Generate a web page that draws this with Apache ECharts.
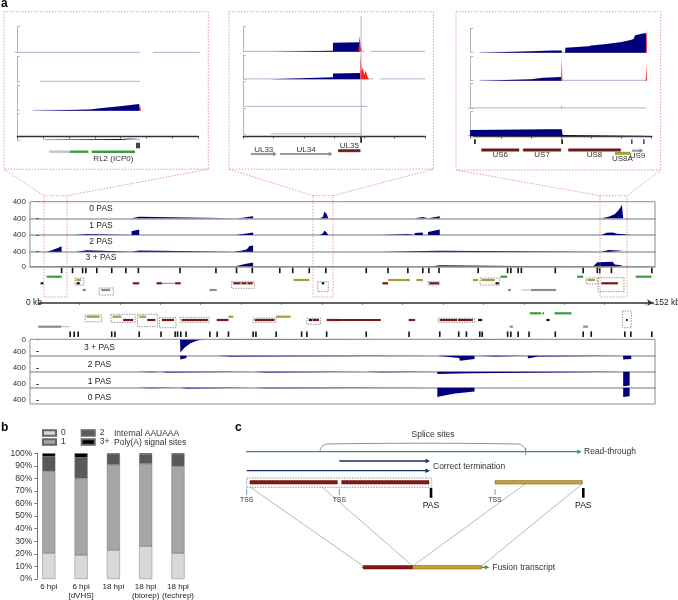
<!DOCTYPE html>
<html><head><meta charset="utf-8">
<script src="https://cdn.jsdelivr.net/npm/echarts/dist/echarts.min.js"></script>
<style>html,body{margin:0;padding:0;background:#fff}#c{width:678px;height:600px}</style>
</head><body><div id="c"></div>
<script>
// ================= DATA =================
// ---- panel b ----
const bCategories = ['6 hpi', '6 hpi\n[dVHS]', '18 hpi', '18 hpi\n(biorep)', '18 hpi\n(techrep)'];
const bPas0 = [20.5, 19.0, 22.9, 26.0, 20.5];
const bPas1 = [65.2, 61.0, 68.0, 65.7, 69.1];
const bPas2 = [11.7, 16.6, 8.6, 7.5, 9.4];
const bPas3 = [2.6, 3.4, 0.5, 0.8, 1.0];
const bSeriesNames = ['0', '1', '2', '3+'];

// ---- panel a, genome-wide coverage (x = kb, y = reads), peaks ----
const up0 = [
  [[22.9,0],[22.9,30],[24.8,40],[24.8,0]],
  [[48.9,0],[50.5,15],[52,35],[53,50],[53,0]],
  [[69.6,0],[70.3,40],[70.6,160],[71.1,120],[71.6,0]],
  [[93,0],[93,25],[95,30],[95,0]],
  [[96.3,0],[96.3,35],[99.2,50],[99.2,0]],
  [[139.2,0],[139.2,20],[141,40],[142.5,100],[143.5,200],[144.3,320],[144.6,320],[144.6,0]]
];
const up1 = [
  [[8.9,0],[8.9,15],[11.8,20],[11.8,0]],
  [[22.9,0],[22.9,90],[24.8,130],[24.8,0]],
  [[48.9,0],[51,30],[53,60],[53,0]],
  [[69.6,0],[70.3,40],[70.6,100],[71.1,70],[71.6,0]],
  [[84.7,0],[84.7,12],[91.3,15],[91.3,0]],
  [[93,0],[93,50],[95,60],[95,0]],
  [[96.3,0],[96.3,70],[99.2,130],[99.2,0]],
  [[139.2,0],[139.2,20],[140.5,55],[142,60],[143,30],[144.6,20],[144.6,0]],
  [[146.5,0],[146.5,10],[152,15],[152,0]]
];
const up2 = [
  [[1.9,0],[3,30],[4.5,80],[5.6,130],[5.6,0]],
  [[9.2,0],[9.2,30],[11.8,35],[11.8,0]],
  [[22.9,0],[22.9,25],[24.8,30],[24.8,0]],
  [[48.1,0],[50,25],[51.5,60],[52,130],[53,150],[53,0]],
  [[84.7,0],[84.7,20],[99.2,25],[99.2,0]],
  [[139.2,0],[139.2,30],[141,40],[144.6,20],[144.6,0]]
];
const up3 = [
  [[3.5,0],[3.5,15],[5.6,20],[5.6,0]],
  [[48.1,0],[48.1,40],[51,70],[53,110],[53,0]],
  [[96.3,0],[96.3,25],[99.2,40],[99.2,0]],
  [[137.1,0],[137.5,30],[138.2,120],[142,135],[142.5,60],[144.6,30],[144.6,0]]
];
const lo3 = [
  [[34.9,0],[35,430],[36,270],[37.5,130],[39,50],[41.1,0]],
  [[44,0],[44,15],[47.3,20],[47.3,0]],
  [[99.2,0],[99.2,25],[107.8,20],[107.8,0]],
  [[121,0],[121,15],[123.5,10],[123.5,0]],
  [[144.6,0],[144.6,30],[146.6,25],[146.6,0]]
];
const lo2 = [
  [[34.9,0],[35,125],[36.5,80],[36.5,0]],
  [[44,0],[44,40],[47.3,30],[47.3,0]],
  [[98.6,0],[98.6,60],[104,80],[104.2,170],[107.8,110],[107.8,0]],
  [[108.7,0],[108.7,60],[112.8,25],[112.8,0]],
  [[121,0],[121,90],[123.5,30],[123.5,0]],
  [[144.6,0],[144.6,130],[146.6,110],[146.6,0]]
];
const lo1 = [
  [[24.6,0],[24.6,30],[27.5,20],[27.5,0]],
  [[30,0],[30,40],[31.6,30],[31.6,0]],
  [[53,0],[53,60],[56.4,30],[56.4,0]],
  [[80.6,0],[80.6,30],[84.7,20],[84.7,0]],
  [[98.6,0],[98.6,80],[104,60],[107.8,50],[107.8,0]],
  [[144.6,0],[144.6,480],[146.2,460],[146.2,0]]
];
const lo0 = [
  [[24.6,0],[24.6,25],[27.5,15],[27.5,0]],
  [[34.9,0],[34.9,50],[36.5,30],[36.5,0]],
  [[53,0],[53,30],[56.4,20],[56.4,0]],
  [[98.6,0],[98.6,300],[100,260],[103,190],[107.8,120],[107.8,0]],
  [[144.6,0],[144.6,300],[146.2,280],[146.2,0]]
];
const upperTrackNames = ['0 PAS', '1 PAS', '2 PAS', '3 + PAS'];
const lowerTrackNames = ['3 + PAS', '2 PAS', '1 PAS', '0 PAS'];

// PAS positions (kb)
const upperPasKb = [5.6,8.3,10.8,11.6,14.3,18.0,21.5,24.6,34.9,43.8,48.9,52.8,59.6,62.8,66.9,71.0,81.0,86.4,91.3,95.0,96.5,99.0,108.7,116.0,116.8,118.6,119.4,127.8,134.7,138.2,138.8,141.7,151.7];
const lowerPasKb = [7.7,8.7,9.7,18.0,18.8,24.8,30.2,33.7,34.3,35.1,36.4,42.3,44.1,46.9,53.0,53.7,58.7,65.0,66.3,71.2,81.0,91.6,99.2,103.9,105.8,109.1,109.7,116.0,116.8,118.6,121.3,127.8,134.7,136.7,145.0,146.5,151.7];

// genes [startKb, endKb, kind]
const upperGenes = [
  [1.9,5.6,'green'],[0.4,1.1,'black'],[9.2,10.4,'olive'],[9.3,10.1,'black'],[10.8,11.6,'gray'],[15.4,17.6,'gray'],
  [23.2,24.8,'red'],[29.1,30.4,'red'],[30.4,33.7,'intron'],[33.7,35.1,'red'],[42.2,44,'gray'],
  [48.1,49.9,'red'],[50.1,51.4,'red'],[51.6,52.9,'red'],[63,66.9,'olive'],[70,70.6,'black'],
  [85,86.4,'red'],[86.4,91.8,'olive'],[93.4,95,'olive'],[96.6,99,'red'],[107.4,108.7,'olive'],
  [109.5,112.8,'olive'],[113,113.8,'black'],[114.2,115.9,'green'],[116.1,116.8,'gray'],
  [119.4,121.8,'intronGray'],[121.8,128,'gray'],[133.2,134.7,'green'],[135.8,137.6,'olive'],
  [139.2,143.3,'red'],[147.7,151.6,'green']
];
const lowerGenes = [
  [-0.2,5.5,'gray'],[5.5,7.7,'intronGray'],[11.8,15,'olive'],[18.2,20.4,'olive'],[20.8,23.3,'red'],
  [24.8,26.5,'olive'],[26.8,28.8,'red'],[30.4,33.4,'red'],[35.3,41.8,'red'],[44,46.9,'red'],
  [46.9,48.1,'olive'],[53.4,58.3,'red'],[58.7,62.3,'olive'],[66.8,67.6,'black'],[67.7,69.3,'red'],
  [71.2,74.5,'red'],[74.5,84.6,'red'],[91.5,93.1,'red'],[99.2,103.5,'red'],[103.7,107.4,'red'],
  [108.7,109.7,'black'],[116.5,117.3,'gray'],[121.5,124.3,'green'],[124.6,125,'green'],
  [125.6,126.4,'black'],[127.6,131.8,'green'],[134.7,135.9,'gray'],[145.3,145.7,'black']
];
// dashed gene groups [startKb, endKb, rowTop, rowBottom]
const upperBoxes = [[8.9,11.1,4,11],[14.9,18.4,14,21],[47.7,53.3,7.7,14.3],[69,71.6,7.7,17.7],[96.3,99.2,7.7,11],[109.2,114,4,11],[135.5,138.2,4,10],[138.4,144.8,3.7,17.7]];
const lowerBoxes = [[11.4,15.5,5,11.7],[17.8,23.8,4.3,12.3],[24.4,29.3,4.3,16.7],[29.8,33.9,7.7,17.7],[34.9,42.1,7.3,12.3],[53,58.7,8,12.3],[66.3,69.7,8.3,14.3],[98.8,107.8,8.3,12.3],[144.4,146.6,1,17.7]];

// ---- panel a zoom boxes (x = position along box axis, y = relative coverage) ----
const box1Cov = [[], [], [[0.68,0],[0.68,3],[2.81,5],[2.85,8],[3.2,10],[3.97,17],[4.55,24],[4.71,26],[4.74,26],[4.74,0]], [[1.0,0],[1.0,1.5],[3.97,4],[4.74,7],[4.74,0]]];
const box1Red = [[], [], [[4.72,0],[4.74,28],[4.78,0]], []];
const box1Faint = [[[-0.1,4.75],[5.25,7.05]], [[0.88,4.74]], [[0.6,4.74]], [[1.0,4.74]]];
const box2Cov = [
  [[0.89,0],[0.89,3],[2.96,4],[2.96,36],[3.86,38],[3.86,0]],
  [[0.89,0],[0.89,3],[2.96,8],[2.96,24],[3.86,26],[3.86,0]],
  [[2.96,0],[2.96,4],[3.89,4],[3.89,0]],
  []
];
const box2Red = [
  [[3.8,0],[3.84,65],[3.87,20],[3.92,6],[3.97,0]],
  [[3.86,0],[3.87,100],[3.91,30],[3.95,50],[3.99,18],[4.04,35],[4.1,10],[4.15,0]],
  [], []
];
const box2Faint = [[[0.06,4.0],[4.2,6.0]], [[0.06,4.3],[4.5,6.0]], [[0.1,4.1]], [[0.9,3.9]]];
const box3Cov = [
  [[0.29,0],[0.29,3],[2.0,6],[2.7,9],[3.02,9],[3.02,0],[3.13,0],[3.14,20],[3.9,26],[4.0,30],[4.5,36],[5.0,44],[5.3,52],[5.4,56],[5.45,72],[5.75,80],[5.82,80],[5.82,0]],
  [[0.29,0],[0.29,2],[2.0,6],[2.4,12],[3.0,15],[3.0,0]],
  [[-0.09,0],[-0.09,4],[3.02,6],[3.02,0]],
  [[-0.09,0],[-0.09,25],[2.5,28],[2.55,26],[3.02,28],[3.05,4],[5.8,4],[5.8,0]]
];
const box3Red = [
  [[5.8,0],[5.82,100],[5.84,0]],
  [[3.0,0],[3.02,100],[3.04,0],[5.8,0],[5.82,70],[5.84,0]],
  [[3.01,0],[3.02,15],[3.03,0]],
  []
];
const box3Faint = [[[0.29,5.82]], [[0.29,5.82]], [[-0.09,5.82]], [[-0.09,5.82]]];
// genes in boxes [start, end, row, kind, name]
const box1Genes = [[1.23,2.04,15.7,'greenLight',''],[2.04,2.75,15.7,'green',''],[2.88,4.55,15.7,'green','RL2 (ICP0)']];
const box2Genes = [[0.25,1.1,18,'grayArrow','UL33'],[1.21,2.94,18,'grayArrow','UL34'],[3.14,3.86,14.7,'red','UL35']];
const box3Genes = [[0.36,1.6,14,'red','US6'],[1.74,2.99,14,'red','US7'],[3.24,4.97,14,'red','US8'],[4.78,5.28,17.3,'olive','US8A'],[5.34,5.72,14.7,'grayArrow','US9']];
// PAS marks in boxes [pos, rowTop, rowBottom, kind]
const box1Marks = [[4.63,6.7,12.3,'black'],[4.71,6.7,12.3,'black']];
const box2Marks = [[3.89,0.7,6.7,'black']];
const box3Marks = [[0.14,3.3,8,'black'],[3.03,3.3,8,'black'],[5.34,3.3,8,'blue'],[5.74,3.3,8,'blue']];

// ---- panel c schematic (diagram units) ----
const cArrows = [[246,581.7,451.7,'green'],[339.3,430,461,'navy'],[246.7,430,470.7,'navy'],[361.7,489.3,567.3,'green']];
const cBars = [[250,337.3,482.3,'red'],[341.7,429,482.3,'red'],[495,582.3,482.3,'gold'],[363.3,412.7,567.3,'red'],[412.7,481.7,567.3,'gold']];
const cConnectors = [[250,487,363.3,566],[322,487,412.7,566],[525,484,412.7,566],[582,484,481.7,566]];
const cTss = [246.7,339.3,495];
const cPas = [431,583.3];
const cGroupBox = [[246.7,478,431.7,487.3]];
const cSplice = [[320,452],[321,447.5],[327,444],[518,444],[524.5,447.5],[525.7,452]];

// ================= STYLE / LAYOUT =================
const FONT = '"Liberation Sans", Arial, Helvetica, sans-serif';
const NAVY = '#00007c';
const RED = '#ff1a1a';
const bColors = ['#d9d9d9', '#a6a6a6', '#595959', '#000000'];
const geneColor = {green:'#3c9c3c', olive:'#a69d3c', red:'#7a1818', gray:'#8c8c8c', black:'#151515', intron:'#7a1818', intronGray:'#8c8c8c', greenLight:'#b9ccb9', grayArrow:'#9a9a9a'};
const laneOf = {green:0, olive:1, red:2, black:2, intron:2, gray:3, intronGray:3};
const X0 = -2.23, X1 = 152.48;
const cColor = {green:'#2f9e3f', navy:'#1b2a6b', red:'#8c1515', gold:'#caa234'};

const grids = [], xAxes = [], yAxes = [], series = [];
function addGrid(rect, xa, ya) {
  const i = grids.length;
  grids.push(Object.assign({containLabel:false, show:false}, rect));
  xAxes.push(Object.assign({gridIndex:i, type:'value', show:false, splitLine:{show:false}}, xa));
  yAxes.push(Object.assign({gridIndex:i, type:'value', show:false, splitLine:{show:false}}, ya));
  return i;
}
function flat(peaks){ return [].concat(...peaks); }
function area(gi, pts, color) {
  return {type:'line', xAxisIndex:gi, yAxisIndex:gi, data:pts, symbol:'none', showSymbol:false,
    lineStyle:{width:0}, areaStyle:{color:color || NAVY, opacity:1}, silent:true, clip:false, z:3, animation:false};
}
function custom(gi, data, renderItem, z) {
  return {type:'custom', xAxisIndex:gi, yAxisIndex:gi, data:data, renderItem:renderItem, silent:true, clip:false, z:z||4, animation:false};
}
function txtStyle(text, x, y, size, align, color, bold) {
  return {text:text, x:x, y:y, fill:color||'#222', font:(bold?'bold ':'') + size + 'px ' + FONT,
    align:align||'left', textAlign:align||'left', verticalAlign:'middle', textVerticalAlign:'middle'};
}

// ---------- panel b ----------
const bG = addGrid({left:32.65, top:453.3, width:161.5, height:128.4},
  {type:'category', show:true, data:bCategories, axisLine:{show:false}, axisTick:{show:false},
   axisLabel:{fontSize:8, color:'#222', margin:4, lineHeight:8.5, interval:0, fontFamily:FONT}},
  {show:true, min:0, max:100, interval:10, offset:-4.6,
   axisLine:{show:true, lineStyle:{color:'#555', width:0.8}},
   axisTick:{show:true, length:3, lineStyle:{color:'#555', width:0.8}},
   axisLabel:{fontSize:8.5, color:'#333', margin:5, formatter:'{value}%', fontFamily:FONT}});
[bPas0, bPas1, bPas2, bPas3].forEach((vals, i) => {
  series.push({name:bSeriesNames[i], type:'bar', stack:'pas', xAxisIndex:bG, yAxisIndex:bG, barWidth:13, data:vals,
    itemStyle:{color:bColors[i], borderColor:'#666', borderWidth:0.4}, emphasis:{disabled:true}, silent:true, z:3});
});

// ---------- panel a main tracks ----------
const upTops = [201.7,218.3,235,251.7], upH = [16.6,16.7,16.7,15];
const loTops = [339.3,355.7,371.7,387.7], loH = [16.4,16,16,16.3];
const sepLine = {show:true, lineStyle:{color:'#a2a2ae', width:1.6}};
[up0, up1, up2, up3].forEach((peaks, i) => {
  const labs = i === 3 ? [0,400] : [400];
  const gi = addGrid({left:30, top:upTops[i], width:625, height:upH[i]},
    {min:X0, max:X1, show:true, position:'bottom', axisLine:sepLine, axisTick:{show:false}, axisLabel:{show:false}},
    {min:0, max:400, interval:400, show:true, axisLine:{show:false},
     axisTick:{show:true, length:3, lineStyle:{color:'#555'}, customValues:labs},
     axisLabel:{fontSize:8, color:'#333', margin:4, fontFamily:FONT, customValues:labs,
       formatter:(v) => labs.indexOf(v) >= 0 ? String(v) : ''}});
  series.push(area(gi, flat(peaks)));
});
[lo3, lo2, lo1, lo0].forEach((peaks, i) => {
  const labs = i === 0 ? [0,400] : [400];
  const gi = addGrid({left:30, top:loTops[i], width:625, height:loH[i]},
    {min:X0, max:X1, show:true, position:'top', axisLine:i > 0 ? sepLine : {show:false}, axisTick:{show:false}, axisLabel:{show:false}},
    {min:0, max:530, interval:400, inverse:true, show:true, axisLine:{show:false},
     axisTick:{show:true, length:3, lineStyle:{color:'#555'}, customValues:labs},
     axisLabel:{fontSize:8, color:'#333', margin:4, fontFamily:FONT, customValues:labs,
       formatter:(v) => labs.indexOf(v) >= 0 ? String(v) : ''}});
  series.push(area(gi, flat(peaks)));
});

// PAS marker rows
function markRow(top, list) {
  const gi = addGrid({left:30, top:top, width:625, height:5.5}, {min:X0, max:X1}, {min:0, max:1, inverse:true});
  series.push(custom(gi, list.map(v => [v, 0]), (p, api) => {
    const a = api.coord([api.value(0), 0]), b = api.coord([api.value(0), 1]);
    return {type:'rect', shape:{x:a[0]-0.8, y:a[1], width:1.6, height:b[1]-a[1]}, style:{fill:'#111'}};
  }));
}
markRow(267.7, upperPasKb);
markRow(331.4, lowerPasKb);

// gene rows
function geneRow(top, h, laneY, genes, boxes) {
  const gi = addGrid({left:30, top:top, width:625, height:h}, {min:X0, max:X1}, {min:0, max:h, inverse:true});
  series.push(custom(gi, genes.map(g => [g[0], g[1]]), (p, api) => {
    const g = genes[p.dataIndex]; const k = g[2]; const y = laneY[laneOf[k]];
    const a = api.coord([g[0], y]), b = api.coord([g[1], y]);
    if (k === 'intron' || k === 'intronGray')
      return {type:'line', shape:{x1:a[0], y1:a[1], x2:b[0], y2:b[1]}, style:{stroke:geneColor[k], lineWidth:0.6}};
    return {type:'rect', shape:{x:a[0], y:a[1]-1.1, width:Math.max(b[0]-a[0], 1.2), height:2.2}, style:{fill:geneColor[k]}};
  }));
  series.push(custom(gi, boxes.map(b => [b[0], b[2]]), (p, api) => {
    const bx = boxes[p.dataIndex];
    const a = api.coord([bx[0], bx[2]]), b = api.coord([bx[1], bx[3]]);
    return {type:'rect', shape:{x:a[0], y:a[1], width:b[0]-a[0], height:b[1]-a[1]},
      style:{fill:'none', stroke:'#444', lineWidth:0.6, lineDash:[1.4,1.2]}};
  }, 5));
}
geneRow(274, 22, [2.7, 6, 9.3, 16], upperGenes, upperBoxes);
geneRow(310, 20, [3.3, 6.7, 10, 16.7], lowerGenes, lowerBoxes);

// genome axis
addGrid({left:39, top:298, width:614.1, height:4.7},
  {show:true, min:0, max:152, interval:10, position:'bottom',
   axisLine:{show:true, symbol:['none','arrow'], symbolSize:[5,6], lineStyle:{color:'#333', width:1.5}},
   axisTick:{show:true, length:2, lineStyle:{color:'#444', width:0.8}}, axisLabel:{show:false}},
  {min:0, max:1});

// ---------- panel a zoom boxes ----------
const boxLayout = [
  {left:17.3, width:181, max:7, off:4, tops:[26.7,56.7,85,113.3], hs:[26,25,25.7,26.7], cov:box1Cov, red:box1Red, faint:box1Faint, genes:box1Genes, marks:box1Marks, dy:6.6},
  {left:243.3, width:181.7, max:6, off:5, tops:[26.7,55,81.7,108.3], hs:[25,24.3,25,26], cov:box2Cov, red:box2Red, faint:box2Faint, genes:box2Genes, marks:box2Marks, dy:-4.7},
  {left:470.7, width:181, max:6, off:6.7, tops:[28.3,56.7,83.3,111.7], hs:[24.4,24,25,24.3], cov:box3Cov, red:box3Red, faint:box3Faint, genes:box3Genes, marks:box3Marks, dy:5}
];
boxLayout.forEach(L => {
  for (let t = 0; t < 4; t++) {
    const gi = addGrid({left:L.left, top:L.tops[t], width:L.width, height:L.hs[t]},
      {min:0, max:L.max},
      {min:0, max:100, interval:100, show:true, offset:L.off,
       axisLine:{show:true, lineStyle:{color:'#b4b4b4', width:1}},
       axisTick:{show:true, inside:true, length:2.5, lineStyle:{color:'#b4b4b4'}}, axisLabel:{show:false}});
    const segs = L.faint[t];
    series.push(custom(gi, segs.map(s => [s[0], 0]), (p, api) => {
      const s = segs[p.dataIndex]; const a = api.coord([s[0], 0]), b = api.coord([s[1], 0]);
      return {type:'line', shape:{x1:a[0], y1:a[1]-0.4, x2:b[0], y2:b[1]-0.4}, style:{stroke:'#b0b0d4', lineWidth:1}};
    }, 2));
    if (L.cov[t].length) series.push(area(gi, L.cov[t]));
    if (L.red[t].length) series.push(area(gi, L.red[t], RED));
  }
  const ag = addGrid({left:L.left, top:136, width:L.width, height:28.3},
    {show:true, min:0, max:L.max, interval:1, position:'bottom',
     axisLine:{show:true, lineStyle:{color:'#333', width:1.3}},
     axisTick:{show:true, length:2.5, lineStyle:{color:'#333', width:0.8}}, axisLabel:{show:false}},
    {min:0, max:28.3, inverse:true});
  const genes = L.genes, marks = L.marks, dy = L.dy;
  series.push(custom(ag, genes.map(g => [g[0], g[2]]), (p, api) => {
    const g = genes[p.dataIndex]; const k = g[3];
    const a = api.coord([g[0], g[2]]), b = api.coord([g[1], g[2]]);
    const h = k === 'olive' ? 3 : 2.4;
    const ch = [];
    if (k === 'grayArrow') {
      ch.push({type:'rect', shape:{x:a[0], y:a[1]-1.1, width:b[0]-a[0]-3, height:2.2}, style:{fill:'#9c9c9c'}});
      ch.push({type:'polygon', shape:{points:[[b[0]-3.6, a[1]-2.4],[b[0], a[1]],[b[0]-3.6, a[1]+2.4]]}, style:{fill:'#8a8a8a'}});
    } else {
      ch.push({type:'rect', shape:{x:a[0], y:a[1]-h/2, width:b[0]-a[0], height:h},
        style:{fill:geneColor[k], stroke:k === 'red' ? '#4a0a0a' : null, lineWidth:0.4}});
    }
    if (g[4]) ch.push({type:'text', style:txtStyle(g[4], (a[0]+b[0])/2, a[1]+dy, 8, 'center', '#333')});
    return {type:'group', children:ch};
  }, 5));
  series.push(custom(ag, marks.map(m => [m[0], m[1]]), (p, api) => {
    const m = marks[p.dataIndex];
    const a = api.coord([m[0], m[1]]), b = api.coord([m[0], m[2]]);
    return {type:'rect', shape:{x:a[0]-0.8, y:a[1], width:1.6, height:b[1]-a[1]}, style:{fill:m[3] === 'blue' ? '#2b4fc0' : '#111'}};
  }, 5));
});

// ---------- panel c ----------
const cG = addGrid({left:230, top:420, width:448, height:180}, {min:230, max:678}, {min:420, max:600, inverse:true});
series.push(custom(cG, cConnectors.map(c => [c[0], c[1]]), (p, api) => {
  const c = cConnectors[p.dataIndex]; const a = api.coord([c[0], c[1]]), b = api.coord([c[2], c[3]]);
  return {type:'line', shape:{x1:a[0], y1:a[1], x2:b[0], y2:b[1]}, style:{stroke:'#8a8a8a', lineWidth:0.6}};
}, 2));
series.push(custom(cG, cArrows.map(c => [c[0], c[2]]), (p, api) => {
  const c = cArrows[p.dataIndex]; const a = api.coord([c[0], c[2]]), b = api.coord([c[1], c[2]]);
  const col = cColor[c[3]];
  return {type:'group', children:[
    {type:'line', shape:{x1:a[0], y1:a[1], x2:b[0]-3, y2:b[1]}, style:{stroke:col, lineWidth:1.3}},
    {type:'polygon', shape:{points:[[b[0]-4.5, b[1]-2.2],[b[0], b[1]],[b[0]-4.5, b[1]+2.2]]}, style:{fill:col}}]};
}, 3));
series.push(custom(cG, cGroupBox.map(c => [c[0], c[1]]), (p, api) => {
  const c = cGroupBox[p.dataIndex]; const a = api.coord([c[0], c[1]]), b = api.coord([c[2], c[3]]);
  return {type:'rect', shape:{x:a[0], y:a[1], width:b[0]-a[0], height:b[1]-a[1]}, style:{fill:'none', stroke:'#555', lineWidth:0.6, lineDash:[1.5,1.2]}};
}, 3));
series.push(custom(cG, cBars.map(c => [c[0], c[2]]), (p, api) => {
  const c = cBars[p.dataIndex]; const a = api.coord([c[0], c[2]]), b = api.coord([c[1], c[2]]);
  return {type:'rect', shape:{x:a[0], y:a[1]-1.7, width:b[0]-a[0], height:3.4},
    style:{fill:cColor[c[3]], stroke:c[3] === 'gold' ? '#6e5512' : '#4a0808', lineWidth:0.5}};
}, 4));
series.push(custom(cG, cTss.map(v => [v, 489]), (p, api) => {
  const a = api.coord([cTss[p.dataIndex], 489]), b = api.coord([cTss[p.dataIndex], 495]);
  return {type:'line', shape:{x1:a[0], y1:a[1], x2:b[0], y2:b[1]}, style:{stroke:'#6f8fc0', lineWidth:0.9}};
}, 4));
series.push(custom(cG, cPas.map(v => [v, 488]), (p, api) => {
  const a = api.coord([cPas[p.dataIndex], 488]), b = api.coord([cPas[p.dataIndex], 497.7]);
  return {type:'rect', shape:{x:a[0]-1.3, y:a[1], width:2.6, height:b[1]-a[1]}, style:{fill:'#000'}};
}, 4));
series.push(custom(cG, [[cSplice[0][0], cSplice[0][1]]], (p, api) => {
  const pts = cSplice.map(q => api.coord(q));
  const t1 = api.coord([525.7, 448]), t2 = api.coord([525.7, 455]);
  return {type:'group', children:[
    {type:'polyline', shape:{points:pts, smooth:0.3}, style:{stroke:'#777', lineWidth:0.8, fill:'none'}},
    {type:'line', shape:{x1:t1[0], y1:t1[1], x2:t2[0], y2:t2[1]}, style:{stroke:'#777', lineWidth:0.8}}]};
}, 4));

// ---------- graphic decorations & labels ----------
const G = [];
function T(text, x, y, size, align, bold, color) { G.push({type:'text', x:0, y:0, z:20, silent:true, style:txtStyle(text, x, y, size, align, color, bold)}); }
function R(x, y, w, h, style) { G.push({type:'rect', z:12, silent:true, shape:{x:x, y:y, width:w, height:h}, style:Object.assign({fill:'none'}, style)}); }
function Ln(x1, y1, x2, y2, style) { G.push({type:'line', z:12, silent:true, shape:{x1:x1, y1:y1, x2:x2, y2:y2}, style:style}); }
const pinkDot = {stroke:'#e48383', lineWidth:0.8, lineDash:[1.5,1.5]};

T('a', 1, 3.5, 12, 'left', true, '#000');
T('b', 1, 427.5, 12, 'left', true, '#000');
T('c', 235, 428, 12, 'left', true, '#000');

// zoom boxes and connectors
R(4, 11.7, 204.3, 157.5, pinkDot);
R(229, 11.7, 204.3, 157.5, pinkDot);
R(456, 11.7, 204.7, 158.3, pinkDot);
Ln(4, 169.2, 44, 195.7, pinkDot); Ln(208.3, 169.2, 67, 195.7, pinkDot);
Ln(229, 169.2, 313, 195.7, pinkDot); Ln(433.3, 169.2, 333, 195.7, pinkDot);
Ln(456, 170, 600, 195.7, pinkDot); Ln(660.7, 170, 627, 195.7, pinkDot);
R(44, 195.7, 23, 101.3, pinkDot);
R(313, 195.7, 20, 101.3, pinkDot);
R(600, 195.7, 27, 101.3, pinkDot);
Ln(361.1, 16, 361.1, 136.7, {stroke:'#9a9aa8', lineWidth:0.7});

// track frames
R(30, 201.7, 625, 65, {stroke:'#8c8c8c', lineWidth:1});
R(30, 339.3, 625, 64.7, {stroke:'#8c8c8c', lineWidth:1});
const upY = [209, 225.7, 242, 258], loY = [347.7, 365, 381.7, 397.7];
upperTrackNames.forEach((n, i) => T(n, 101, upY[i], 8.5, 'center'));
lowerTrackNames.forEach((n, i) => T(n, 99.5, loY[i], 8.5, 'center'));
T('0 kb', 42, 302.7, 8.5, 'right');
T('152 kb', 654.5, 302.7, 8.5, 'left');

// panel b legend side text
T('Internal AAUAAA', 114, 433.5, 8.5, 'left', false, '#333');
T('Poly(A) signal sites', 114, 442.5, 8.5, 'left', false, '#333');

// panel c labels
T('Splice sites', 433, 434.3, 8.5, 'center', false, '#333');
T('Read-through', 584, 451.7, 8.5, 'left', false, '#333');
T('Correct termination', 433, 466.7, 8.5, 'left', false, '#333');
cTss.forEach(x => T('TSS', x, 500.3, 6.8, 'center', false, '#333'));
cPas.forEach(x => T('PAS', x, 505.3, 8.5, 'center', false, '#111'));
T('Fusion transcript', 492.3, 567.3, 8.5, 'left', false, '#333');

const legendBase = {left:42, itemWidth:13, itemHeight:5.5, itemGap:15, padding:0, selectedMode:false, icon:'rect',
  textStyle:{fontSize:8.5, color:'#333', fontFamily:FONT}};

const option = {
  animation:false,
  backgroundColor:'#ffffff',
  textStyle:{fontFamily:FONT},
  grid:grids, xAxis:xAxes, yAxis:yAxes, series:series,
  legend:[Object.assign({}, legendBase, {top:428.5, data:['0','2']}), Object.assign({}, legendBase, {top:437.5, data:['1','3+']})],
  graphic:{elements:G}
};
const chart = echarts.init(document.getElementById('c'), null, {renderer:'canvas'});
chart.setOption(option);
</script></body></html>
